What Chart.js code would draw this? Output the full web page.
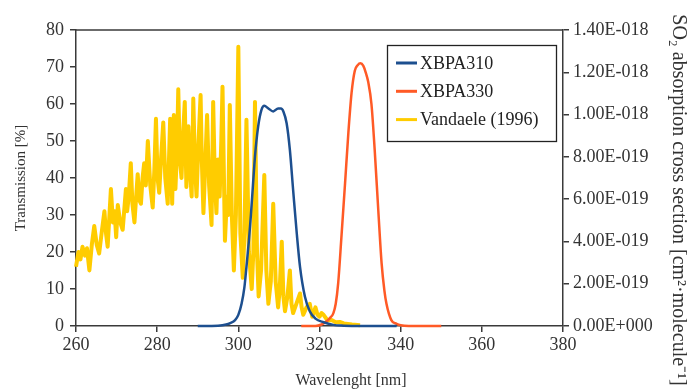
<!DOCTYPE html>
<html lang="en">
<head>
<meta charset="UTF-8">
<title>XBPA filters and SO2 cross section</title>
<script src="https://cdn.jsdelivr.net/npm/chart.js"></script>
<style>
  body { margin: 0; background: #fff; }
  #wrap { width: 690px; height: 392px; }
</style>
</head>
<body>
<div id="wrap"><canvas id="chart" width="690" height="392"></canvas></div>
<script>
// axis ticks
const xTicks = [260, 280, 300, 320, 340, 360, 380];
const leftTicks = [0, 10, 20, 30, 40, 50, 60, 70, 80];
const rightTickValues = [0, 2, 4, 6, 8, 10, 12, 14]; // in 1e-19 cm2/molecule
const rightTickLabels = ['0.00E+000', '2.00E-019', '4.00E-019', '6.00E-019',
  '8.00E-019', '1.00E-018', '1.20E-018', '1.40E-018'];

// XBPA310 transmission [%]
const xbpa310Wl = [290, 295, 297, 298, 299.2, 300, 300.8, 301.5, 302, 302.6, 303.1, 303.6, 304.1,
  304.9, 305.7, 306.4, 307.4, 308.6, 309.8, 310.5, 311.1, 311.9, 312.7, 313.5, 314.4, 315.2,
  316.4, 317.6, 319, 321, 323.4, 326, 330, 339];
const xbpa310T = [0, 0.1, 0.4, 0.8, 1.6, 3, 6, 10.5, 16, 23, 30, 38, 45.8,
  54, 58.4, 59.5, 58.8, 58, 58.8, 58.8, 58, 54.8, 47.6, 36.8, 25, 16,
  8, 4, 2, 1, 0.3, 0.1, 0, 0];

// XBPA330 transmission [%]
const xbpa330Wl = [315.5, 319, 320.5, 321.7, 322.6, 323.4, 324, 324.6, 325.4, 326.3, 327.1, 327.9,
  328.7, 329.4, 330.1, 330.8, 331.4, 332, 332.8, 333.6, 334.5, 335.3, 336, 336.5, 337.7, 339, 340, 342, 350];
const xbpa330T = [0, 0, 0.4, 1.2, 2.2, 3.4, 6, 11.5, 24, 38.6, 52, 63,
  69, 70.5, 71, 70.3, 68.5, 66, 60, 47.6, 31, 17, 9.5, 6, 1.6, 0.6, 0.2, 0, 0];

// Vandaele (1996) SO2 cross section [1e-19 cm2/molecule]
const vandaeleWl = [
  260, 260.6, 261.1, 261.6, 262.2, 262.7, 263.3, 263.9, 264.5, 265.1,
  265.7, 266.3, 267, 267.4, 267.8, 268.6, 269.1, 269.5, 269.9, 270.3,
  270.9, 271.5, 272.3, 272.6, 273, 273.5, 273.9, 274.4, 275.2, 275.6,
  276, 276.4, 276.8, 277.2, 277.7, 278.3, 278.9, 279.3, 279.7, 280.1,
  280.5, 281, 281.5, 282, 282.6, 283.2, 283.7, 284.1, 284.5, 284.9,
  285.2, 285.6, 286, 286.4, 286.8, 287.2, 287.7, 288.1, 288.5, 288.9,
  289.3, 289.7, 290.2, 290.7, 291, 291.4, 291.9, 292.3, 292.8, 293.4,
  293.8, 294.2, 294.6, 295, 295.4, 295.8, 296.1, 296.7, 297.2, 297.5,
  297.9, 298.4, 298.9, 299.4, 300, 300.5, 301.1, 301.5, 302, 302.6,
  303.3, 303.7, 304.1, 304.6, 305, 305.6, 306.4, 306.9, 307.4, 308,
  308.6, 309.2, 309.8, 310.2, 310.7, 311.1, 311.5, 312.1, 312.7, 313.1,
  313.5, 314.3, 315.2, 315.6, 316, 316.8, 317.6, 318.2, 319, 319.5,
  320, 320.5, 321, 322, 323, 324, 325, 326, 328, 330];
const vandaeleSigma = [
  2.80, 3.50, 3.15, 3.75, 3.33, 3.68, 2.63, 3.85, 4.73, 3.85,
  3.43, 4.38, 5.43, 4.38, 3.75, 6.48, 4.90, 5.43, 4.20, 5.72,
  4.90, 4.55, 6.48, 5.43, 6.13, 7.70, 5.78, 4.90, 7.18, 5.95,
  5.78, 7.00, 7.70, 6.65, 8.75, 6.65, 5.60, 7.35, 9.80, 7.00,
  6.30, 8.05, 9.63, 7.00, 5.78, 9.80, 5.78, 9.98, 6.48, 8.40,
  11.2, 7.88, 7.00, 9.10, 10.6, 6.58, 9.45, 7.35, 6.13, 10.76,
  7.70, 6.13, 8.75, 10.92, 7.88, 5.34, 7.88, 9.98, 6.65, 4.78,
  10.6, 7.00, 5.34, 7.88, 6.13, 8.75, 11.32, 4.03, 6.13, 5.25,
  10.45, 5.25, 2.63, 5.25, 13.21, 4.38, 2.28, 4.38, 9.75, 3.50,
  1.75, 3.50, 10.6, 3.50, 1.40, 2.63, 7.14, 2.63, 1.05, 2.10,
  5.78, 2.10, 0.88, 1.75, 3.99, 1.40, 0.70, 1.40, 2.63, 1.05,
  0.61, 1.05, 1.54, 0.88, 0.53, 0.88, 1.05, 0.44, 0.88, 0.53,
  0.44, 0.61, 0.53, 0.26, 0.28, 0.18, 0.19, 0.12, 0.07, 0.04];

const axisColor = '#3a3a3a';
const textColor = '#333';
const serif = "'Liberation Serif', 'Times New Roman', serif";

function toPoints(xs, ys) {
  return xs.map((x, i) => ({ x: x, y: ys[i] }));
}

// legend box, top frame line and the two off-centre titles
const extras = {
  id: 'extras',
  beforeDatasetsDraw(chart) {
    const { ctx, chartArea: a } = chart;
    ctx.save();
    ctx.strokeStyle = axisColor;
    ctx.lineWidth = 1.5;
    ctx.beginPath();
    ctx.moveTo(a.left, a.top);
    ctx.lineTo(a.right, a.top);
    ctx.stroke();
    ctx.restore();
  },
  afterDraw(chart) {
    const ctx = chart.ctx;
    ctx.save();
    // legend
    ctx.strokeStyle = '#222';
    ctx.lineWidth = 1.3;
    ctx.strokeRect(387.5, 45.5, 169, 96);
    ctx.font = '18px ' + serif;
    ctx.textBaseline = 'middle';
    ctx.textAlign = 'left';
    chart.data.datasets.forEach((ds, i) => {
      const y = 63 + i * 28.3;
      ctx.strokeStyle = ds.borderColor;
      ctx.lineWidth = 3;
      ctx.beginPath();
      ctx.moveTo(396, y);
      ctx.lineTo(417, y);
      ctx.stroke();
      ctx.fillStyle = '#222';
      ctx.fillText(ds.label, 420, y + 1);
    });
    // x title
    ctx.fillStyle = textColor;
    ctx.font = '16px ' + serif;
    ctx.textAlign = 'center';
    ctx.fillText('Wavelenght [nm]', 351, 381);
    // right title
    ctx.translate(678, 200);
    ctx.rotate(Math.PI / 2);
    ctx.font = '20px ' + serif;
    ctx.fillText('SO\u2082 absorption cross section [cm\u00B2\u00B7molecule\u207B\u00B9]', 0, 0);
    ctx.restore();
  }
};

const ctx = document.getElementById('chart').getContext('2d');
const chart = new Chart(ctx, {
  type: 'line',
  data: {
    datasets: [{
      label: 'XBPA310',
      data: toPoints(xbpa310Wl, xbpa310T),
      borderColor: '#1d4f8f',
      borderWidth: 2.5,
      cubicInterpolationMode: 'monotone',
      yAxisID: 'y'
    }, {
      label: 'XBPA330',
      data: toPoints(xbpa330Wl, xbpa330T),
      borderColor: '#ff5a26',
      borderWidth: 2.5,
      cubicInterpolationMode: 'monotone',
      yAxisID: 'y'
    }, {
      label: 'Vandaele (1996)',
      data: toPoints(vandaeleWl, vandaeleSigma),
      borderColor: '#ffcc00',
      borderWidth: 4,
      tension: 0,
      yAxisID: 'y1'
    }]
  },
  options: {
    responsive: false,
    animation: false,
    devicePixelRatio: 1,
    layout: { padding: { top: 30 } },
    elements: { point: { radius: 0 }, line: { borderJoinStyle: 'round' } },
    datasets: { line: { clip: false } },
    plugins: { legend: { display: false }, tooltip: { enabled: false } },
    scales: {
      x: {
        type: 'linear',
        min: 260, max: 380,
        afterBuildTicks: s => { s.ticks = xTicks.map(v => ({ value: v })); },
        afterFit: s => { s.height = 66; },
        border: { color: axisColor, width: 1.5 },
        grid: { drawOnChartArea: false, tickLength: 6, color: axisColor, lineWidth: 1.5 },
        ticks: { color: textColor, font: { family: serif, size: 18 }, padding: 2, maxRotation: 0 }
      },
      y: {
        position: 'left',
        min: 0, max: 80,
        afterBuildTicks: s => { s.ticks = leftTicks.map(v => ({ value: v })); },
        afterFit: s => { s.width = 76; },
        border: { color: axisColor, width: 1.5 },
        grid: { drawOnChartArea: false, tickLength: 6, color: axisColor, lineWidth: 1.5 },
        ticks: { color: textColor, font: { family: serif, size: 18 }, padding: 6 },
        title: { display: true, text: 'Transmission [%]', color: textColor,
          font: { family: serif, size: 15 }, padding: { top: 12, bottom: 0 } }
      },
      y1: {
        position: 'right',
        min: 0, max: 14,
        afterBuildTicks: s => { s.ticks = rightTickValues.map(v => ({ value: v })); },
        afterFit: s => { s.width = 127; },
        border: { color: axisColor, width: 1.5 },
        grid: { drawOnChartArea: false, tickLength: 6, color: axisColor, lineWidth: 1.5 },
        ticks: {
          color: textColor, font: { family: serif, size: 18 }, padding: 4,
          callback: (v, i) => rightTickLabels[i]
        }
      }
    }
  },
  plugins: [extras]
});
</script>
</body>
</html>
